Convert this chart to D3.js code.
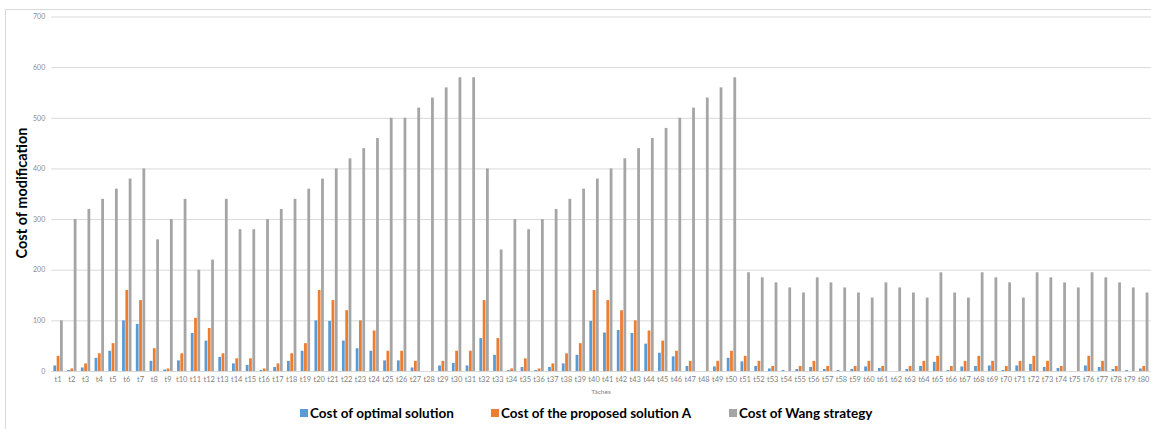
<!DOCTYPE html>
<html>
<head>
<meta charset="utf-8">
<script src="https://cdn.jsdelivr.net/npm/d3@7"></script>
<style>
  body { margin: 0; background: #fff; }
  svg { display: block; font-family: Lato, "Open Sans", sans-serif; }
</style>
</head>
<body>
<svg id="chart"></svg>
<script>
var width = 1151;
var height = 429;

// Data
var tasks = d3.range(1, 81).map(i => 't' + i);

var optimalCost = [
  11, 2, 7, 26, 40, 100, 93, 20, 3, 21,
  75, 60, 28, 15, 12, 2, 8, 20, 40, 100,
  99, 60, 45, 40, 21, 21, 7, 0, 11, 16,
  11, 65, 32, 2, 8, 2, 8, 15, 32, 99,
  76, 81, 75, 54, 36, 29, 10, 0, 9, 26,
  19, 10, 5, 2, 4, 8, 4, 2, 4, 9,
  6, 0, 4, 10, 18, 2, 9, 10, 11, 2,
  11, 14, 8, 6, 0, 11, 8, 4, 2, 5
];

var proposedCost = [
  30, 5, 15, 35, 55, 160, 140, 45, 5, 35,
  105, 85, 35, 25, 25, 5, 15, 35, 55, 160,
  140, 120, 100, 80, 40, 40, 20, 0, 20, 40,
  40, 140, 65, 5, 25, 5, 15, 35, 55, 160,
  140, 120, 100, 80, 60, 40, 20, 0, 20, 40,
  30, 20, 10, 0, 10, 20, 10, 0, 10, 20,
  10, 0, 10, 20, 30, 10, 20, 30, 20, 10,
  20, 30, 20, 10, 0, 30, 20, 10, 0, 10
];

var wangCost = [
  100, 300, 320, 340, 360, 380, 400, 260, 300, 340,
  200, 220, 340, 280, 280, 300, 320, 340, 360, 380,
  400, 420, 440, 460, 500, 500, 520, 540, 560, 580,
  580, 400, 240, 300, 280, 300, 320, 340, 360, 380,
  400, 420, 440, 460, 480, 500, 520, 540, 560, 580,
  195, 185, 175, 165, 155, 185, 175, 165, 155, 145,
  175, 165, 155, 145, 195, 155, 145, 195, 185, 175,
  145, 195, 185, 175, 165, 195, 185, 175, 165, 155
];

var seriesNames = ['Cost of optimal solution', 'Cost of the proposed solution A', 'Cost of Wang strategy'];
var seriesColors = ['#5B9BD5', '#ED7D31', '#A5A5A5'];
var yTicks = [0, 100, 200, 300, 400, 500, 600, 700];

var rows = tasks.map((t, i) => ({
  task: t,
  values: [optimalCost[i], proposedCost[i], wangCost[i]]
}));

var plotLeft = 51.2;
var plotRight = 1150.6;
var plotTop = 16.5;
var plotBottom = 371;

var svg = d3.select('#chart')
  .attr('width', width)
  .attr('height', height);

// chart frame (cut off on the right and bottom)
svg.append('path')
  .attr('d', 'M5.5,' + (height + 2) + 'V9.5H' + (width + 2))
  .attr('fill', 'none')
  .attr('stroke', '#d9d9d9');

// Scales

var xScale = d3.scaleBand()
  .domain(tasks)
  .range([plotLeft, plotRight]);

var groupWidth = 9.4;
var seriesScale = d3.scaleBand()
  .domain(d3.range(3))
  .range([(xScale.bandwidth() - groupWidth) / 2, (xScale.bandwidth() + groupWidth) / 2])
  .paddingInner(0.16);

var yScale = d3.scaleLinear()
  .domain([0, 700])
  .range([plotBottom, plotTop]);

// Axes

var yAxis = d3.axisLeft(yScale)
  .tickValues(yTicks)
  .tickSize(-(plotRight - plotLeft) - 10)
  .tickSizeOuter(0)
  .tickPadding(6);

var yAxisG = svg.append('g')
  .attr('transform', 'translate(' + plotLeft + ',0)')
  .call(yAxis);

yAxisG.select('.domain').remove();
yAxisG.selectAll('line')
  .attr('stroke', '#d9d9d9');
yAxisG.selectAll('text')
  .attr('fill', '#8c8c8c')
  .style('font-size', '7px')
  .attr('font-family', 'Lato, sans-serif');

var xAxis = d3.axisBottom(xScale)
  .tickSize(0)
  .tickPadding(6);

var xAxisG = svg.append('g')
  .attr('transform', 'translate(0,' + plotBottom + ')')
  .call(xAxis);

xAxisG.select('.domain').remove();
xAxisG.selectAll('text')
  .attr('fill', '#7f7f7f')
  .style('font-size', '7.5px')
  .attr('font-family', 'Lato, sans-serif');

// Bars

svg.append('g')
  .selectAll('g')
  .data(rows)
  .enter()
  .append('g')
    .attr('transform', d => 'translate(' + xScale(d.task) + ',0)')
  .selectAll('rect')
  .data(d => d.values)
  .enter()
  .append('rect')
    .attr('x', (v, i) => seriesScale(i))
    .attr('y', v => yScale(v))
    .attr('width', seriesScale.bandwidth())
    .attr('height', v => plotBottom - yScale(v))
    .attr('fill', (v, i) => seriesColors[i]);

// Text

svg.append('text')
  .attr('transform', 'rotate(-90)')
  .attr('x', -193)
  .attr('y', 27)
  .style('text-anchor', 'middle')
  .style('font-size', '14.5px')
  .style('font-weight', 'bold')
  .attr('fill', '#000')
  .text('Cost of modification');

svg.append('text')
  .attr('x', 601)
  .attr('y', 394)
  .style('text-anchor', 'middle')
  .style('font-size', '6.5px')
  .attr('fill', '#7f7f7f')
  .text('Tâches');

// Legend

var legendX = [300, 491, 729];

var legend = svg.append('g')
  .selectAll('g')
  .data(seriesNames)
  .enter()
  .append('g')
    .attr('transform', (d, i) => 'translate(' + legendX[i] + ',413)');

legend.append('rect')
  .attr('x', 0)
  .attr('y', -4)
  .attr('width', 8)
  .attr('height', 8)
  .attr('fill', (d, i) => seriesColors[i]);

legend.append('text')
  .attr('x', 10)
  .attr('dy', '0.35em')
  .style('font-size', '13.5px')
  .style('font-weight', 'bold')
  .attr('fill', '#000')
  .text(d => d);
</script>
</body>
</html>
